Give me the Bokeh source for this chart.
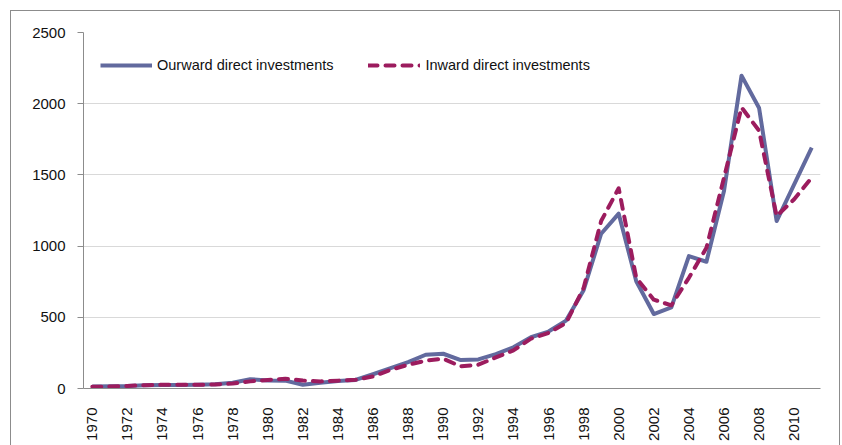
from math import pi
from bokeh.plotting import figure
from bokeh.models import Range1d, FixedTicker, Legend, LegendItem, InlineStyleSheet
from bokeh.embed import file_html
from bokeh.resources import INLINE

years = list(range(1970, 2012))
outward = [14, 15, 17, 22, 24, 25, 27, 30, 40, 65, 57, 55, 26, 40, 52, 60, 100, 143, 185, 237,
           244, 200, 204, 242, 289, 360, 400, 477, 690, 1087, 1228, 753, 523, 570, 930, 890,
           1387, 2197, 1970, 1176, 1434, 1692]
inward = [12, 14, 18, 23, 26, 26, 26, 28, 35, 50, 60, 68, 56, 50, 55, 61, 85, 131, 167, 195,
          209, 155, 167, 218, 268, 350, 390, 460, 706, 1176, 1406, 777, 624, 584, 777, 988,
          1481, 1974, 1810, 1211, 1329, 1481]
y_ticks = [0, 500, 1000, 1500, 2000, 2500]
x_ticks = list(range(1970, 2012, 2))
labels = ["Ourward direct investments", "Inward direct investments"]

FONT = "Liberation Sans"
BLUE = "#626A9E"
RED = "#9C1C5E"

p = figure(width=830, height=435, output_backend="svg", toolbar_location=None,
           x_range=Range1d(1969.5, 2011.5), y_range=Range1d(0, 2500),
           min_border_left=72, min_border_right=21, min_border_top=21, min_border_bottom=58)
p.margin = (10, 0, 0, 10)
p.stylesheets = [InlineStyleSheet(css=":host { box-sizing: border-box; "
                                      "border-top: 1px solid #8c8c8c; "
                                      "border-left: 1px solid #8c8c8c; "
                                      "border-right: 1px solid #8c8c8c; }")]
p.outline_line_color = None

r1 = p.line(years, outward, line_color=BLUE, line_width=4, line_join="round")
r2 = p.line(years, inward, line_color=RED, line_width=4, line_dash="9 8",
            line_cap="round", line_join="round")

p.xgrid.grid_line_color = None
p.ygrid.grid_line_color = "#d9d9d9"
p.ygrid.grid_line_width = 1

p.yaxis.ticker = FixedTicker(ticks=y_ticks)
p.yaxis.minor_tick_line_color = None
p.yaxis.major_tick_out = 6
p.yaxis.major_tick_in = 0
p.yaxis.axis_line_color = "#8c8c8c"
p.yaxis.major_tick_line_color = "#8c8c8c"
p.yaxis.major_label_standoff = 12

p.xaxis.ticker = FixedTicker(ticks=x_ticks)
p.xaxis.minor_tick_line_color = None
p.xaxis.major_tick_line_color = None
p.xaxis.axis_line_color = "#8c8c8c"
p.xaxis.major_label_orientation = pi / 2
p.xaxis.major_label_standoff = 13

for ax in (p.xaxis, p.yaxis):
    ax.major_label_text_font = FONT
    ax.major_label_text_font_size = "15px"
    ax.major_label_text_color = "#111111"

legend = Legend(items=[LegendItem(label=labels[0], renderers=[r1]),
                       LegendItem(label=labels[1], renderers=[r2])],
                orientation="horizontal", location=(17, 315),
                glyph_width=52, glyph_height=16, label_height=16,
                label_standoff=5, spacing=35, padding=0, margin=0,
                border_line_color=None, background_fill_alpha=0,
                label_text_font=FONT, label_text_font_size="14.5px",
                label_text_color="#111111")
p.add_layout(legend)

open("out.html", "w").write(file_html(p, INLINE))
